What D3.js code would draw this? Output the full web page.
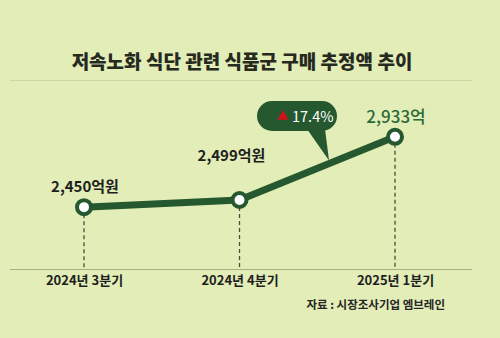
<!DOCTYPE html>
<html>
<head>
<meta charset="utf-8">
<script src="https://cdn.jsdelivr.net/npm/d3@7"></script>
<style>
  html, body { margin: 0; padding: 0; background: #e2edb7; }
  svg { display: block; }
  text { font-family: "Noto Sans CJK KR", "Noto Sans", sans-serif; }
</style>
</head>
<body>
<svg id="chart" width="500" height="338"></svg>
<script>
// Quarterly estimated purchase amount (억원)
const categories = ["2024년 3분기", "2024년 4분기", "2025년 1분기"];
const values = [2450, 2499, 2933];
const valueLabels = ["2,450억원", "2,499억원", "2,933억"];
const growthLabel = "17.4%";
const title = "저속노화 식단 관련 식품군 구매 추정액 추이";
const source = "자료 : 시장조사기업 엠브레인";

const W = 500, H = 338;
const green = "#25582f";
const svg = d3.select("#chart");

svg.append("rect").attr("width", W).attr("height", H).attr("fill", "#e2edb7");

// Title and divider
svg.append("text")
  .attr("x", 242).attr("y", 69)
  .attr("text-anchor", "middle")
  .attr("font-size", 19).attr("font-weight", 900)
  .attr("fill", "#262a1e")
  .text(title);
svg.append("line")
  .attr("x1", 10).attr("x2", 472).attr("y1", 80.5).attr("y2", 80.5)
  .attr("stroke", "#cbd8a6").attr("stroke-width", 1);

const x = d3.scalePoint().domain(categories).range([84, 395]);
const y = d3.scaleLinear().domain([2300, 3000]).range([229, 127]);
const baseY = 269;

// Baseline axis
const axis = d3.axisBottom(x).tickSize(0).tickPadding(7);
const gAxis = svg.append("g").attr("transform", `translate(0,${baseY})`).call(axis);
gAxis.select(".domain").remove();
gAxis.append("line")
  .attr("x1", 10).attr("x2", 472).attr("y1", 0.5).attr("y2", 0.5)
  .attr("stroke", "#a3b085").attr("stroke-width", 1.2);
gAxis.selectAll(".tick text")
  .attr("font-family", "'Noto Sans CJK KR', sans-serif")
  .attr("font-size", 13).attr("font-weight", 700)
  .attr("fill", "#1e1e1e");

const pts = categories.map((c, i) => ({ c, v: values[i], label: valueLabels[i], i }));

// Dashed drop lines
svg.selectAll(".drop").data(pts).join("line")
  .attr("x1", d => x(d.c)).attr("x2", d => x(d.c))
  .attr("y1", d => y(d.v)).attr("y2", baseY)
  .attr("stroke", "#4a4d3c").attr("stroke-width", 1.3)
  .attr("stroke-dasharray", "4,3");

// Trend line
const line = d3.line().x(d => x(d.c)).y(d => y(d.v));
svg.append("path").datum(pts)
  .attr("d", line)
  .attr("fill", "none").attr("stroke", green)
  .attr("stroke-width", 7).attr("stroke-linejoin", "round");

// Callout bubble on the last segment
const p2 = pts[1], p3 = pts[2];
const tipX = 329;
const tipT = (tipX - x(p2.c)) / (x(p3.c) - x(p2.c));
const tipY = y(p2.v) + tipT * (y(p3.v) - y(p2.v)) - 3;
const bx = 257, by = 101, bw = 80, bh = 30;
const callout = svg.append("g");
callout.append("path")
  .attr("d", `M${bx + 50},${by + bh - 2} L${tipX},${tipY} L${bx + 68},${by + bh - 2} Z`)
  .attr("fill", green);
callout.append("rect")
  .attr("x", bx).attr("y", by).attr("width", bw).attr("height", bh)
  .attr("rx", 15).attr("fill", green);
callout.append("path")
  .attr("d", d3.symbol().type(d3.symbolTriangle).size(52)())
  .attr("transform", `translate(${bx + 26},${by + 15.5})`)
  .attr("fill", "#d0121b");
callout.append("text")
  .attr("x", bx + 35).attr("y", by + 20.5)
  .attr("font-size", 14.5).attr("font-weight", 400)
  .attr("fill", "#ffffff")
  .text(growthLabel);

// Point markers
svg.selectAll(".pt").data(pts).join("circle")
  .attr("cx", d => x(d.c)).attr("cy", d => y(d.v))
  .attr("r", 7)
  .attr("fill", "#ffffff").attr("stroke", green).attr("stroke-width", 4);

// Value labels
svg.selectAll(".val").data(pts).join("text")
  .attr("x", d => x(d.c) + (d.i === 2 ? 1 : (d.i === 1 ? -8 : 1)))
  .attr("y", d => y(d.v) - (d.i === 1 ? 39 : (d.i === 2 ? 14 : 15)))
  .attr("text-anchor", "middle")
  .attr("font-size", d => d.i === 2 ? 17 : 15)
  .attr("font-weight", d => d.i === 2 ? 500 : 700)
  .attr("fill", d => d.i === 2 ? "#2c6a37" : "#1e1e1e")
  .text(d => d.label);

// Source
svg.append("text")
  .attr("x", 445).attr("y", 309)
  .attr("text-anchor", "end")
  .attr("font-size", 11.5).attr("font-weight", 700)
  .attr("fill", "#262626")
  .text(source);
</script>
</body>
</html>
